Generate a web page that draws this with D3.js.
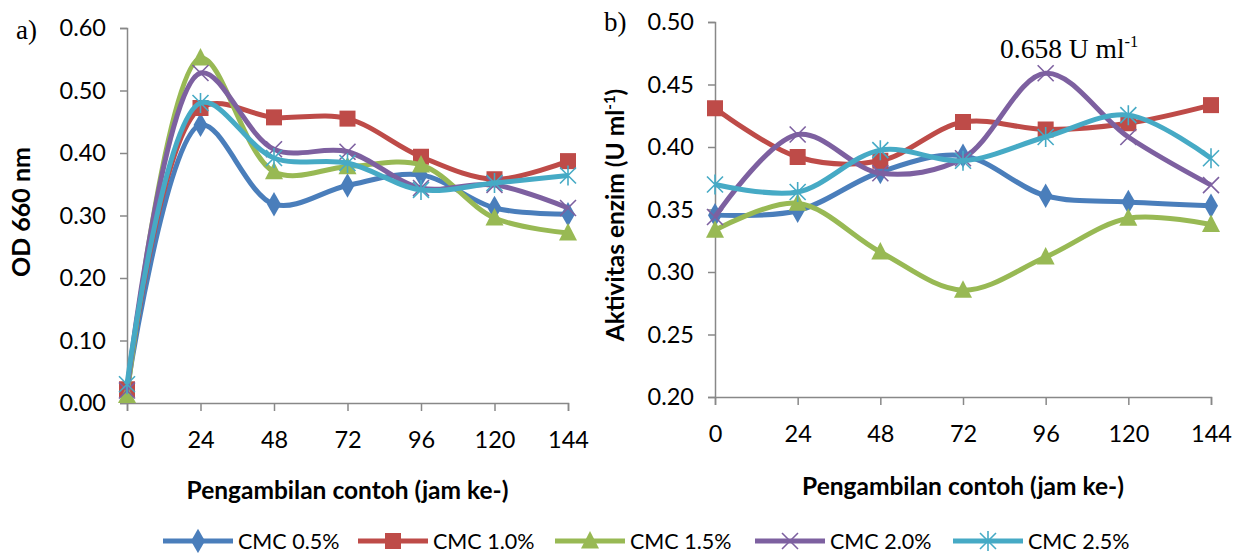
<!DOCTYPE html>
<html><head><meta charset="utf-8">
<script src="https://cdn.jsdelivr.net/npm/d3@7"></script>
<style>body{margin:0;background:#fff}svg{display:block}</style>
</head><body>
<script>
const categories = ["0","24","48","72","96","120","144"];
const seriesNames = ["CMC 0.5%","CMC 1.0%","CMC 1.5%","CMC 2.0%","CMC 2.5%"];
const odValues = [
  [0.02, 0.445, 0.318, 0.348, 0.365, 0.312, 0.302],
  [0.022,0.472, 0.457, 0.455, 0.394, 0.358, 0.387],
  [0.012,0.552, 0.370, 0.378, 0.381, 0.296, 0.272],
  [0.02, 0.528, 0.406, 0.402, 0.344, 0.349, 0.312],
  [0.03, 0.480, 0.392, 0.384, 0.341, 0.352, 0.364]
];
const enzValues = [
  [0.3455,0.349,0.380,0.393,0.361,0.356,0.353],
  [0.431, 0.392,0.389,0.420,0.414,0.419,0.4335],
  [0.3335,0.355,0.316,0.2855,0.312,0.343,0.338],
  [0.344, 0.410,0.379,0.391,0.459,0.408,0.3695],
  [0.370, 0.364,0.3975,0.389,0.408,0.4255,0.391]
];
const odTicks = [0,0.1,0.2,0.3,0.4,0.5,0.6];
const enzTicks = [0.20,0.25,0.30,0.35,0.40,0.45,0.50];
const colors = ["#4A7EBB","#BE4B48","#98B954","#7D60A0","#46AAC5"];
const markers = ["diamond","square","triangle","x","asterisk"];

const W=1243,H=553;
const svg=d3.select("body").append("svg").attr("width",W).attr("height",H);
const tickFont="Lato, 'Open Sans', sans-serif";

function drawMarker(g,type,x,y,color){
  if(type==="diamond"){
    g.append("path").attr("d",d3.symbol(d3.symbolDiamond,170)()).attr("transform",`translate(${x},${y})`).attr("fill",color);
  } else if(type==="square"){
    g.append("rect").attr("x",x-8).attr("y",y-8).attr("width",16).attr("height",16).attr("fill",color);
  } else if(type==="triangle"){
    g.append("path").attr("d",`M${x},${y-10}L${x+9},${y+7.5}L${x-9},${y+7.5}Z`).attr("fill",color);
  } else if(type==="x"){
    g.append("path").attr("d",`M${x-8},${y-8}L${x+8},${y+8}M${x-8},${y+8}L${x+8},${y-8}`).attr("stroke",color).attr("stroke-width",1.6);
  } else if(type==="asterisk"){
    g.append("path").attr("d",`M${x-8},${y-8}L${x+8},${y+8}M${x-8},${y+8}L${x+8},${y-8}M${x},${y-10}L${x},${y+10}`).attr("stroke",color).attr("stroke-width",1.6);
  }
}

function panel(opts){
  const x=d3.scalePoint().domain(categories).range([opts.x0,opts.x1]);
  const y=d3.scaleLinear().domain(opts.domain).range([opts.y0,opts.y1]);
  const g=svg.append("g");
  const ya=g.append("g").attr("transform",`translate(${opts.x0},0)`)
    .call(d3.axisLeft(y).tickValues(opts.ticks).tickFormat(d3.format(".2f")).tickSizeOuter(0).tickSize(7).tickPadding(14));
  const xa=g.append("g").attr("transform",`translate(0,${opts.y0})`)
    .call(d3.axisBottom(x).tickSizeOuter(0).tickSize(8).tickPadding(20));
  [ya,xa].forEach(a=>{
    a.select(".domain").attr("stroke","#888").attr("stroke-width",1.5);
    a.selectAll(".tick line").attr("stroke","#888").attr("stroke-width",1.5);
    a.selectAll("text").attr("font-family",tickFont).attr("font-size",23.5).attr("fill","#000");
  });
  const line=d3.line().x((d,i)=>x(categories[i])).y(d=>y(d)).curve(d3.curveCatmullRom.alpha(0.5));
  opts.values.forEach((vals,si)=>{
    g.append("path").attr("d",line(vals)).attr("fill","none").attr("stroke",colors[si]).attr("stroke-width",5).attr("stroke-linejoin","round");
    const mg=g.append("g");
    vals.forEach((v,i)=>drawMarker(mg,markers[si],x(categories[i]),y(v),colors[si]));
  });
  g.append("text").attr("x",(opts.x0+opts.x1)/2 + opts.xTitleDx).attr("y",opts.xTitleY).attr("text-anchor","middle")
    .attr("font-family",tickFont).attr("font-weight","bold").attr("font-size",24.5).text("Pengambilan contoh (jam ke-)");
  return {x,y,g};
}

const a=panel({x0:127,x1:568,y0:403,y1:28,domain:[0,0.6],ticks:odTicks,values:odValues,xTitleY:499,xTitleDx:0});
const b=panel({x0:715,x1:1211,y0:397,y1:22,domain:[0.2,0.5],ticks:enzTicks,values:enzValues,xTitleY:495,xTitleDx:0});

svg.append("text").attr("transform","translate(30,212) rotate(-90)").attr("text-anchor","middle")
  .attr("font-family",tickFont).attr("font-weight","bold").attr("font-size",25).text("OD 660 nm");
const yt=svg.append("text").attr("transform","translate(624,215) rotate(-90)").attr("text-anchor","middle")
  .attr("font-family",tickFont).attr("font-weight","bold").attr("font-size",24.5);
yt.append("tspan").text("Aktivitas enzim (U ml");
yt.append("tspan").attr("dy",-9).attr("font-size",15).text("-1");
yt.append("tspan").attr("dy",9).text(")");

svg.append("text").attr("x",16).attr("y",39).attr("font-family","'Liberation Serif', serif").attr("font-size",27).text("a)");
svg.append("text").attr("x",604).attr("y",31).attr("font-family","'Liberation Serif', serif").attr("font-size",27).text("b)");

const an=svg.append("text").attr("x",1000).attr("y",58).attr("font-family","'Liberation Serif', serif").attr("font-size",27.5);
an.append("tspan").text("0.658 U ml");
an.append("tspan").attr("dy",-11).attr("font-size",16.5).text("-1");

const legX=[163,358,555,755,953];
seriesNames.forEach((n,i)=>{
  const lg=svg.append("g");
  const ly=541;
  lg.append("line").attr("x1",legX[i]).attr("x2",legX[i]+70).attr("y1",ly).attr("y2",ly).attr("stroke",colors[i]).attr("stroke-width",5);
  drawMarker(lg,markers[i],legX[i]+35,ly,colors[i]);
  lg.append("text").attr("x",legX[i]+75).attr("y",ly+8).attr("font-family",tickFont).attr("font-size",21.5).text(n);
});
</script>
</body></html>
